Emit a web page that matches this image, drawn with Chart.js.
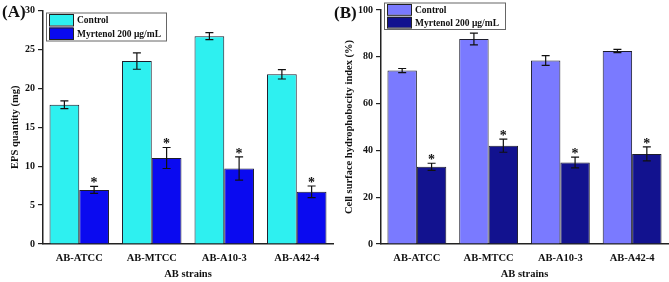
<!DOCTYPE html>
<html>
<head>
<meta charset="utf-8">
<script src="https://cdn.jsdelivr.net/npm/chart.js@4.4.0/dist/chart.umd.min.js"></script>
<style>
  html, body { margin: 0; padding: 0; background: #fff; }
  #wrap { position: relative; width: 669px; height: 282px; }
  canvas { position: absolute; top: 0; }
  #chartA { left: 0; }
  #chartB { left: 334px; }
</style>
</head>
<body>
<div id="wrap">
  <canvas id="chartA" width="335" height="282"></canvas>
  <canvas id="chartB" width="335" height="282"></canvas>
</div>
<script>
const strains = ['AB-ATCC', 'AB-MTCC', 'AB-A10-3', 'AB-A42-4'];
const seriesNames = ['Control', 'Myrtenol 200 μg/mL'];

// Panel A - EPS quantity (mg)
const epsControl = [17.9, 23.5, 26.7, 21.8];
const epsControlErr = [0.5, 1.05, 0.45, 0.6];
const epsMyrtenol = [6.95, 11.05, 9.7, 6.7];
const epsMyrtenolErr = [0.45, 1.35, 1.5, 0.75];
const epsTicks = [0, 5, 10, 15, 20, 25, 30];

// Panel B - cell surface hydrophobicity index (%)
const cshControl = [74.1, 87.6, 78.4, 82.5];
const cshControlErr = [0.9, 2.5, 2.1, 0.7];
const cshMyrtenol = [33.0, 42.0, 34.8, 38.5];
const cshMyrtenolErr = [1.5, 2.8, 2.3, 3.0];
const cshTicks = [0, 20, 40, 60, 80, 100];

// significance marks on the treated bars
const signifMarks = ['*', '*', '*', '*'];

const serif = '"Liberation Serif", "Times New Roman", serif';

// error bars + asterisks
const errorBars = {
  id: 'errorBars',
  afterDatasetsDraw(chart) {
    const ctx = chart.ctx;
    const y = chart.scales.y;
    chart.data.datasets.forEach((ds, di) => {
      const meta = chart.getDatasetMeta(di);
      meta.data.forEach((bar, i) => {
        const v = ds.data[i], e = ds.errors[i];
        const top = y.getPixelForValue(v + e);
        const bot = y.getPixelForValue(v - e);
        ctx.save();
        ctx.strokeStyle = '#111';
        ctx.lineWidth = 1.2;
        ctx.beginPath();
        ctx.moveTo(bar.x, top); ctx.lineTo(bar.x, bot);
        ctx.moveTo(bar.x - 4, top); ctx.lineTo(bar.x + 4, top);
        ctx.moveTo(bar.x - 4, bot); ctx.lineTo(bar.x + 4, bot);
        ctx.stroke();
        if (ds.marks && ds.marks[i]) {
          ctx.fillStyle = '#111';
          ctx.font = 'bold 14px ' + serif;
          ctx.textAlign = 'center';
          ctx.textBaseline = 'alphabetic';
          ctx.fillText(ds.marks[i], bar.x, top + 1);
        }
        ctx.restore();
      });
    });
  }
};

// boxed legend and panel tag
const boxLegend = {
  id: 'boxLegend',
  afterDraw(chart, args, o) {
    const ctx = chart.ctx;
    ctx.save();
    ctx.fillStyle = '#fff';
    ctx.fillRect(o.x, o.y, o.w, o.h);
    ctx.strokeStyle = '#666';
    ctx.lineWidth = 1;
    ctx.strokeRect(o.x + 0.5, o.y + 0.5, o.w, o.h);
    chart.data.datasets.forEach((ds, i) => {
      const ry = o.y + 1.5 + i * o.row;
      ctx.fillStyle = ds.backgroundColor;
      ctx.fillRect(o.x + 3, ry, 24, o.row - 2);
      ctx.strokeStyle = '#222';
      ctx.strokeRect(o.x + 3.5, ry + 0.5, 24, o.row - 2);
      ctx.fillStyle = '#111';
      ctx.font = 'bold 9.5px ' + serif;
      ctx.textAlign = 'left';
      ctx.textBaseline = 'middle';
      ctx.fillText(ds.label, o.x + 31, ry + (o.row - 2) / 2 + 1);
    });
    ctx.font = 'bold 17px ' + serif;
    ctx.textBaseline = 'middle';
    ctx.fillText(o.tag, o.tagX, o.tagY);
    ctx.restore();
  }
};

const makeChart = (id, cfg) => new Chart(document.getElementById(id), {
  type: 'bar',
  data: {
    labels: strains,
    datasets: [
      { label: seriesNames[0], data: cfg.control, errors: cfg.controlErr,
        backgroundColor: cfg.colors[0], borderColor: '#1c1c2c', borderWidth: 1 },
      { label: seriesNames[1], data: cfg.treated, errors: cfg.treatedErr, marks: signifMarks,
        backgroundColor: cfg.colors[1], borderColor: '#1c1c2c', borderWidth: 1 }
    ]
  },
  options: {
    responsive: false,
    animation: false,
    layout: { padding: { top: cfg.top, right: cfg.right, bottom: 0, left: 0 } },
    datasets: { bar: { categoryPercentage: 0.82, barPercentage: 1 } },
    plugins: {
      legend: { display: false },
      tooltip: { enabled: false },
      boxLegend: cfg.legend
    },
    scales: {
      x: {
        grid: { display: false },
        border: { display: true, color: '#222', width: 1.5 },
        ticks: { color: '#111', padding: 0, font: { family: serif, size: 10.5, weight: 'bold' } },
        title: { display: true, text: 'AB strains', color: '#111', padding: { top: 0, bottom: 1.5 },
          font: { family: serif, size: 10.5, weight: 'bold' } },
        afterFit: (s) => { s.height = 38; }
      },
      y: {
        min: 0,
        max: cfg.ticks[cfg.ticks.length - 1],
        afterBuildTicks: (s) => { s.ticks = cfg.ticks.map(v => ({ value: v })); },
        grid: { drawOnChartArea: false, drawTicks: true, tickLength: 5, color: '#222', lineWidth: 1.2 },
        border: { display: true, color: '#222', width: 1.5 },
        ticks: { color: '#111', padding: 3, font: { family: serif, size: 10, weight: 'bold' } },
        title: { display: true, text: cfg.yTitle, color: '#111', padding: { top: 9, bottom: 0 },
          font: { family: serif, size: 10.5, weight: 'bold' } },
        afterFit: (s) => { s.width = cfg.yWidth; }
      }
    }
  },
  plugins: [errorBars, boxLegend]
});

makeChart('chartA', {
  control: epsControl, controlErr: epsControlErr,
  treated: epsMyrtenol, treatedErr: epsMyrtenolErr,
  ticks: epsTicks, yTitle: 'EPS quantity (mg)',
  colors: ['#2ef0f0', '#0a0af0'],
  top: 10.5, right: 2, yWidth: 43,
  legend: { x: 46, y: 12.5, w: 120, h: 28, row: 13.5, tag: '(A)', tagX: 2, tagY: 13 }
});

makeChart('chartB', {
  control: cshControl, controlErr: cshControlErr,
  treated: cshMyrtenol, treatedErr: cshMyrtenolErr,
  ticks: cshTicks, yTitle: 'Cell surface hydrophobocity index (%)',
  colors: ['#7a7aff', '#12128f'],
  top: 10, right: 1, yWidth: 47,
  legend: { x: 50, y: 2.5, w: 121, h: 26.5, row: 12.8, tag: '(B)', tagX: 0, tagY: 13.5 }
});
</script>
</body>
</html>
